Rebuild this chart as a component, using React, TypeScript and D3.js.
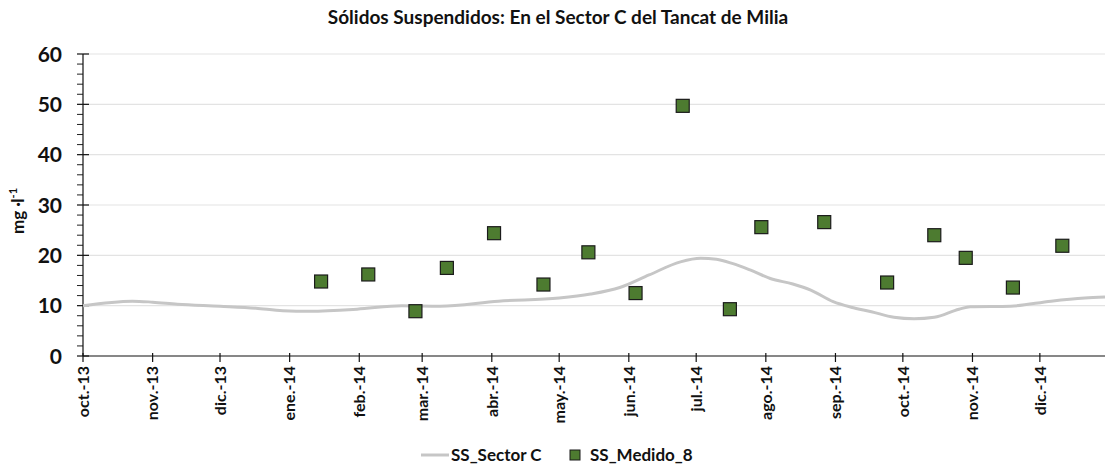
import { useEffect, useRef } from "react";
import * as d3 from "d3";

// SS_Sector C (continuous modelled line)
const sectorDates = [
  "2013-10-01", "2013-10-23", "2013-11-01", "2013-11-12", "2013-12-01", "2013-12-17",
  "2013-12-29", "2014-01-10", "2014-01-31", "2014-02-20", "2014-03-09", "2014-04-04",
  "2014-05-01", "2014-05-15", "2014-05-28", "2014-06-10", "2014-06-24", "2014-07-03",
  "2014-07-10", "2014-07-17", "2014-07-25", "2014-08-03", "2014-08-13", "2014-08-21",
  "2014-08-31", "2014-09-08", "2014-09-17", "2014-09-27", "2014-10-06", "2014-10-15",
  "2014-10-26", "2014-10-31", "2014-11-18", "2014-12-06", "2014-12-21", "2014-12-30",
];
const sectorValues = [
  10.0, 10.9, 10.7, 10.3, 9.9, 9.5,
  9.0, 8.9, 9.3, 10.0, 9.9, 10.9,
  11.5, 12.3, 13.6, 16.1, 18.7, 19.4,
  19.2, 18.4, 17.1, 15.4, 14.3, 13.1,
  10.8, 9.7, 8.8, 7.7, 7.4, 7.7,
  9.3, 9.8, 9.9, 10.9, 11.5, 11.7,
];

// SS_Medido_8 (measured samples)
const medidoDates = [
  "2014-01-15", "2014-02-05", "2014-02-26", "2014-03-12", "2014-04-02", "2014-04-24",
  "2014-05-14", "2014-06-04", "2014-06-25", "2014-07-16", "2014-07-30", "2014-08-27",
  "2014-09-24", "2014-10-15", "2014-10-29", "2014-11-19", "2014-12-11",
];
const medidoValues = [
  14.8, 16.2, 8.9, 17.5, 24.4, 14.2,
  20.6, 12.5, 49.7, 9.3, 25.6, 26.6,
  14.6, 24.0, 19.5, 13.6, 21.9,
];

const monthNames = ["ene.", "feb.", "mar.", "abr.", "may.", "jun.", "jul.", "ago.", "sep.", "oct.", "nov.", "dic."];
const yTicks = [0, 10, 20, 30, 40, 50, 60];

const title = "Sólidos Suspendidos: En el Sector C del Tancat de Milia";

export default function App() {
  const svgRef = useRef<SVGSVGElement | null>(null);
  const width = 1105;
  const height = 466;

  useEffect(() => {
    document.body.style.margin = "0";
    const svg = d3.select(svgRef.current);
    svg.selectAll("*").remove();

    const font = "Lato, 'Open Sans', sans-serif";
    const left = 83, right = 1105, top = 54, bottom = 356;

    const x = d3
      .scaleUtc()
      .domain([new Date("2013-10-01T00:00:00Z"), new Date("2014-12-30T00:00:00Z")])
      .range([left, right]);
    const y = d3.scaleLinear().domain([0, 60]).range([bottom, top]);

    // gridlines
    svg.append("g")
      .selectAll("line")
      .data(yTicks.filter((d) => d > 0))
      .join("line")
      .attr("x1", left)
      .attr("x2", right)
      .attr("y1", (d) => y(d))
      .attr("y2", (d) => y(d))
      .attr("stroke", "#e3e3e3")
      .attr("stroke-width", 1.2);

    // minor y ticks
    const minor = d3.range(0, 61, 2).filter((d) => d % 10 !== 0);
    svg.append("g")
      .selectAll("line")
      .data(minor)
      .join("line")
      .attr("x1", left - 6)
      .attr("x2", left)
      .attr("y1", (d) => y(d))
      .attr("y2", (d) => y(d))
      .attr("stroke", "#222")
      .attr("stroke-width", 1);

    // y axis
    const yAxis = svg.append("g").attr("transform", `translate(${left},0)`);
    yAxis.append("line").attr("y1", top).attr("y2", bottom).attr("stroke", "#111").attr("stroke-width", 1.2);
    yAxis.selectAll("line.tick")
      .data(yTicks)
      .join("line")
      .attr("class", "tick")
      .attr("x1", -6)
      .attr("x2", 6)
      .attr("y1", (d) => y(d))
      .attr("y2", (d) => y(d))
      .attr("stroke", "#111")
      .attr("stroke-width", 1.2);
    yAxis.selectAll("text")
      .data(yTicks)
      .join("text")
      .attr("x", -21)
      .attr("y", (d) => y(d))
      .attr("dy", "0.36em")
      .attr("text-anchor", "end")
      .style("font-family", font)
      .style("font-weight", "bold")
      .style("font-size", "21px")
      .style("fill", "#111")
      .text((d) => d);

    // y label
    const yl = svg.append("text")
      .attr("transform", `translate(24,${(top + bottom) / 2 + 6}) rotate(-90)`)
      .attr("text-anchor", "middle")
      .style("font-family", font)
      .style("font-weight", "bold")
      .style("font-size", "17px")
      .style("fill", "#111");
    yl.append("tspan").text("mg ·l");
    yl.append("tspan").attr("dy", "-7").style("font-size", "11px").text("-1");

    // x axis
    const months = d3.utcMonth.range(new Date("2013-10-01T00:00:00Z"), new Date("2014-12-31T00:00:00Z"));
    const xAxis = svg.append("g");
    xAxis.append("line").attr("x1", left).attr("x2", right).attr("y1", bottom).attr("y2", bottom)
      .attr("stroke", "#111").attr("stroke-width", 1.2);
    xAxis.selectAll("line.tick")
      .data(months)
      .join("line")
      .attr("class", "tick")
      .attr("x1", (d) => x(d))
      .attr("x2", (d) => x(d))
      .attr("y1", bottom - 3)
      .attr("y2", bottom + 6)
      .attr("stroke", "#111")
      .attr("stroke-width", 1.2);
    xAxis.selectAll("text")
      .data(months)
      .join("text")
      .attr("transform", (d) => `translate(${x(d)},${bottom + 10}) rotate(-90)`)
      .attr("text-anchor", "end")
      .attr("dy", "0.36em")
      .style("font-family", font)
      .style("font-weight", "bold")
      .style("font-size", "16px")
      .style("fill", "#111")
      .text((d) => `${monthNames[d.getUTCMonth()]}-${String(d.getUTCFullYear()).slice(2)}`);

    // line
    const sector = sectorDates.map((d, i) => ({ t: new Date(d + "T00:00:00Z"), v: sectorValues[i] }));
    const line = d3.line<{ t: Date; v: number }>()
      .x((d) => x(d.t))
      .y((d) => y(d.v))
      .curve(d3.curveMonotoneX);
    svg.append("path")
      .datum(sector)
      .attr("d", line)
      .attr("fill", "none")
      .attr("stroke", "#c6c6c6")
      .attr("stroke-width", 3);

    // squares
    const medido = medidoDates.map((d, i) => ({ t: new Date(d + "T00:00:00Z"), v: medidoValues[i] }));
    const s = 13;
    svg.append("g")
      .selectAll("rect")
      .data(medido)
      .join("rect")
      .attr("x", (d) => x(d.t) - s / 2)
      .attr("y", (d) => y(d.v) - s / 2)
      .attr("width", s)
      .attr("height", s)
      .attr("fill", "#4d7b30")
      .attr("stroke", "#1b1b1b")
      .attr("stroke-width", 1.2);

    // title
    svg.append("text")
      .attr("x", 558)
      .attr("y", 24)
      .attr("text-anchor", "middle")
      .style("font-family", font)
      .style("font-weight", "bold")
      .style("font-size", "19px")
      .style("fill", "#111")
      .text(title);

    // legend
    const lg = svg.append("g").attr("transform", "translate(0,455)");
    lg.append("line").attr("x1", 421).attr("x2", 449).attr("y1", 0).attr("y2", 0)
      .attr("stroke", "#c6c6c6").attr("stroke-width", 3);
    lg.append("text").attr("x", 451).attr("y", 0).attr("dy", "0.36em")
      .style("font-family", font).style("font-weight", "bold").style("font-size", "17px").style("fill", "#111")
      .text("SS_Sector C");
    lg.append("rect").attr("x", 570).attr("y", -5).attr("width", 10).attr("height", 10)
      .attr("fill", "#4d7b30").attr("stroke", "#1b1b1b").attr("stroke-width", 1);
    lg.append("text").attr("x", 590).attr("y", 0).attr("dy", "0.36em")
      .style("font-family", font).style("font-weight", "bold").style("font-size", "17px").style("fill", "#111")
      .text("SS_Medido_8");
  }, []);

  return (
    <svg ref={svgRef} width={width} height={height} style={{ display: "block", background: "#fff" }} />
  );
}
